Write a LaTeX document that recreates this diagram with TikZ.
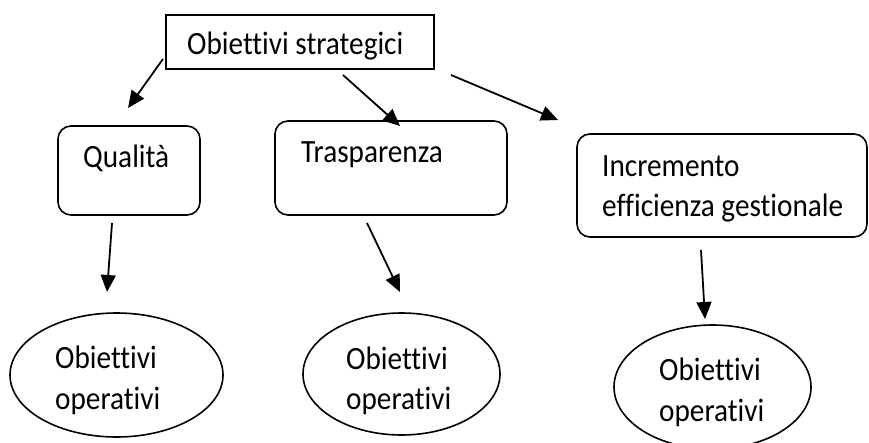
\documentclass[tikz,border=0pt]{standalone}
\usepackage{fontspec}
\setmainfont{Carlito}[FakeStretch=0.9, Ligatures={NoCommon}]
\usetikzlibrary{arrows.meta,shapes.geometric}
\begin{document}
\begin{tikzpicture}[x=1pt,y=-1pt,
  lbl/.style={font=\fontsize{32.5}{40}\selectfont, inner sep=0pt, anchor=base west},
  sbox/.style={draw, line width=1.6pt, inner sep=0pt},
  rbox/.style={draw, line width=1.6pt, rounded corners=13pt, inner sep=0pt},
  oval/.style={draw, ellipse, line width=1.6pt, inner sep=0pt},
  arr/.style={line width=1.8pt, -{Triangle[length=17pt,width=15pt]}}]
\useasboundingbox (0,0) rectangle (869,443);
\clip (0,0) rectangle (869,443);

% boxes
\node[sbox, minimum width=268pt, minimum height=54pt] (strat) at (300,42) {};
\node[rbox, minimum width=142pt, minimum height=89pt] (qual) at (129,170.5) {};
\node[rbox, minimum width=232pt, minimum height=94pt] (trasp) at (391,168) {};
\node[rbox, minimum width=290pt, minimum height=103pt] (incr) at (722,185.5) {};

% ellipses
\node[oval, minimum width=213pt, minimum height=124pt] (op1) at (116.5,375) {};
\node[oval, minimum width=197pt, minimum height=122pt] (op2) at (401.5,374) {};
\node[oval, minimum width=197pt, minimum height=124pt] (op3) at (712.5,387) {};

% texts
\node[lbl] (tstrat) at (187,55) {Obiettivi strategici};
\node[lbl] (tqual) at (83,168) {Qualità};
\node[lbl] (ttrasp) at (301,163) {Trasparenza};
\node[lbl] (tincA) at (602,177) {Incremento};
\node[lbl] (tincB) at (602,217) {efficienza gestionale};
\node[lbl] (top1a) at (55,368) {Obiettivi};
\node[lbl] (top1b) at (55,409) {operativi};
\node[lbl] (top2a) at (346,369) {Obiettivi};
\node[lbl] (top2b) at (346,409) {operativi};
\node[lbl] (top3a) at (659,380) {Obiettivi};
\node[lbl] (top3b) at (659,421) {operativi};

% arrow ends
\coordinate (a1s) at (163,59);  \coordinate (a1e) at (128,108);
\coordinate (a2s) at (343,75);  \coordinate (a2e) at (400,126);
\coordinate (a3s) at (451,75);  \coordinate (a3e) at (558,120);
\coordinate (a4s) at (112,223); \coordinate (a4e) at (107,292);
\coordinate (a5s) at (367,223); \coordinate (a5e) at (400,292);
\coordinate (a6s) at (701,250); \coordinate (a6e) at (705,319);

\draw[arr] (a1s) -- (a1e);
\draw[arr] (a2s) -- (a2e);
\draw[arr] (a3s) -- (a3e);
\draw[arr] (a4s) -- (a4e);
\draw[arr] (a5s) -- (a5e);
\draw[arr] (a6s) -- (a6e);
\end{tikzpicture}
\end{document}
